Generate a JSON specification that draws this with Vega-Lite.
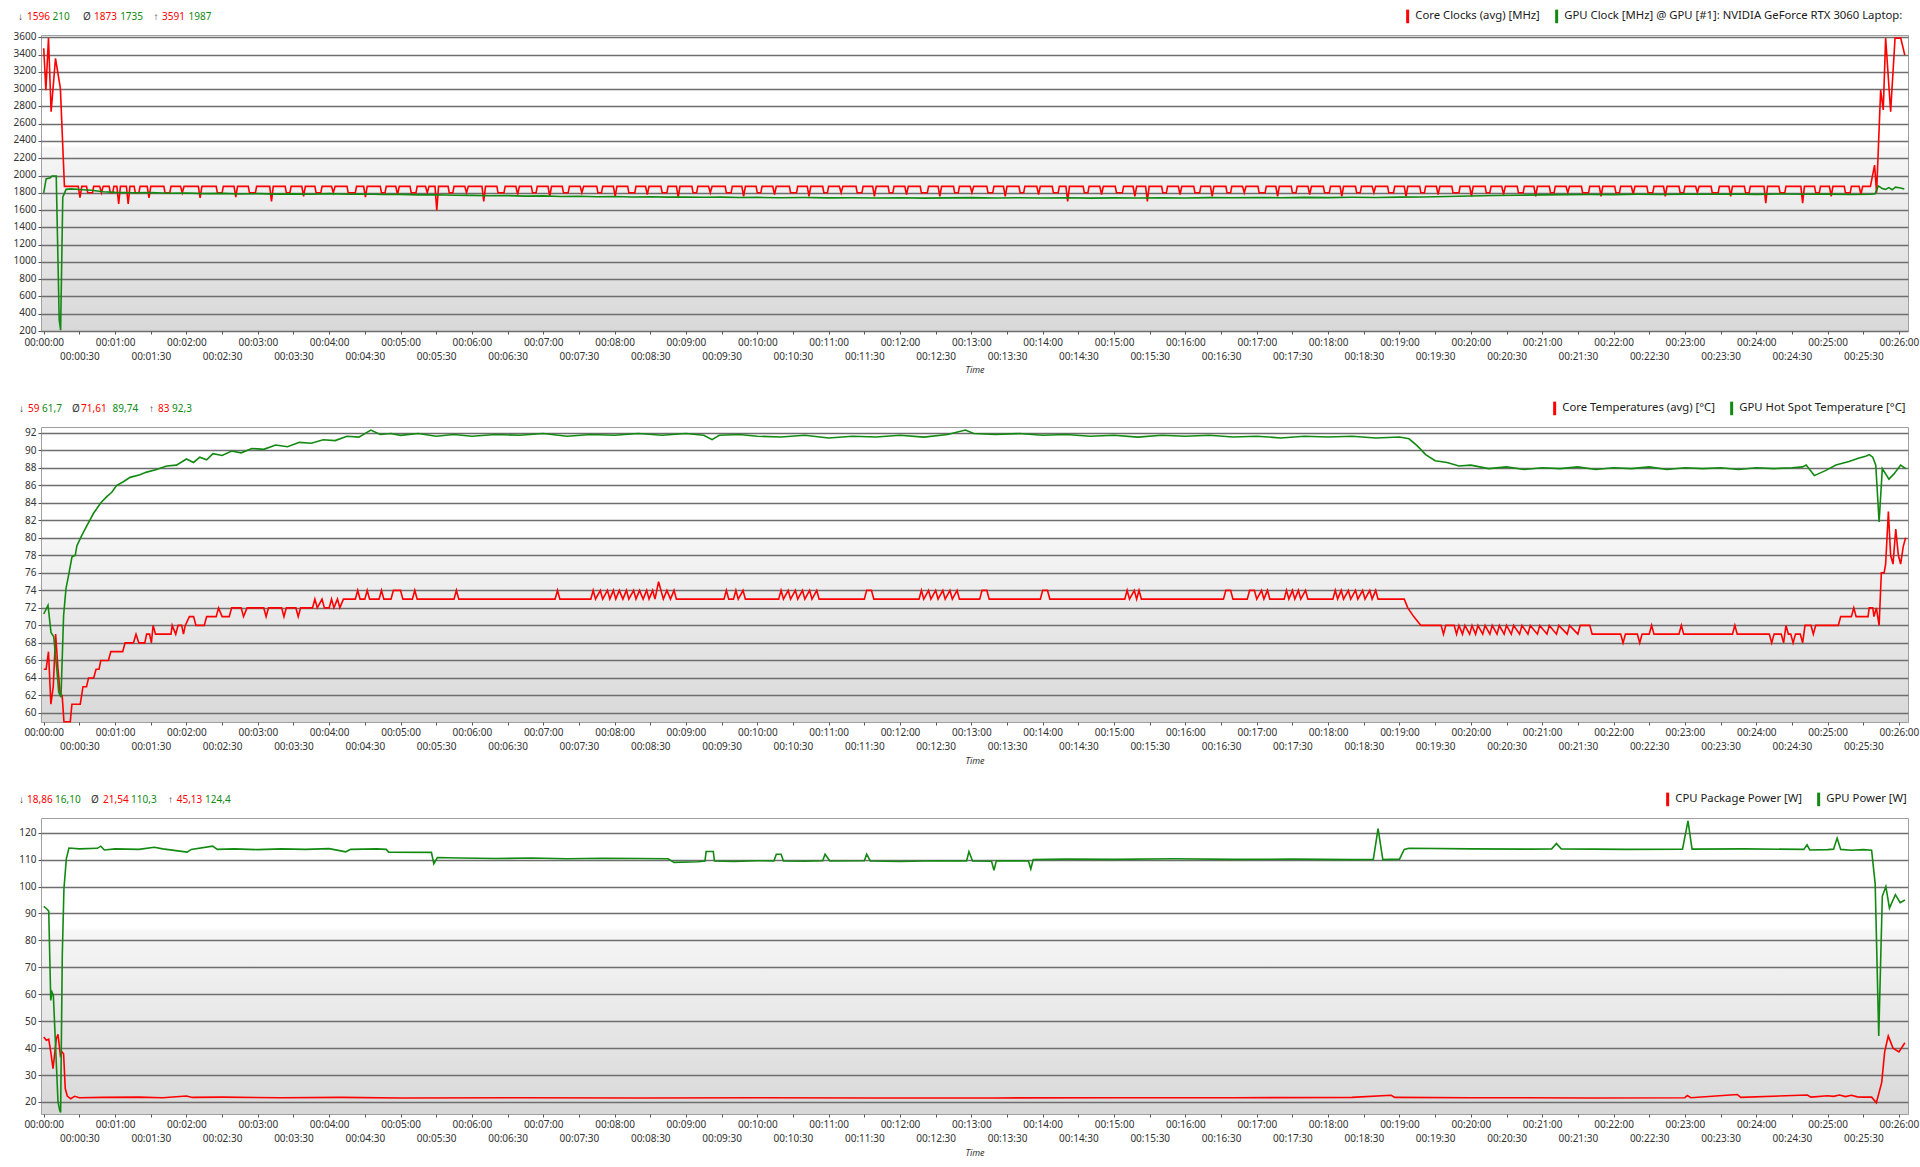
{
"$schema": "https://vega.github.io/schema/vega-lite/v6.json",
"background": "white",
"padding": {"left": 12, "top": 10, "right": 0, "bottom": 0},
"columns": 1,
"spacing": 27,
"config": {
 "font": "Noto Sans",
 "axis": {"labelFont": "Noto Sans", "labelFontSize": 10, "labelColor": "#333333", "tickColor": "#555555", "domain": false, "titleFont": "Noto Sans", "titleColor": "#333333"},
 "legend": {"labelFont": "Noto Sans", "labelFontSize": 11.3, "labelColor": "#1a1a1a", "labelLimit": 0},
 "text": {"font": "Noto Sans", "fontSize": 10}
},
"resolve": {"scale": {"color": "independent", "x": "independent", "y": "independent"}, "legend": {"color": "independent"}},
"datasets": {
 "h1": [{"a1": "1596", "b1": "210", "a2": "1873", "b2": "1735", "a3": "3591", "b3": "1987"}],
 "h2": [{"a1": "59", "b1": "61,7", "a2": "71,61", "b2": "89,74", "a3": "83", "b3": "92,3"}],
 "h3": [{"a1": "18,86", "b1": "16,10", "a2": "21,54", "b2": "110,3", "a3": "45,13", "b3": "124,4"}],
 "c1a": [{"t":0,"v":3473},{"t":1.8,"v":2989},{"t":4,"v":3591},{"t":6.2,"v":2738},{"t":9.9,"v":3357},{"t":14,"v":3009},{"t":17.4,"v":1875},
  {"t":29,"v":1875},{"t":30.5,"v":1745},{"t":32,"v":1875},{"t":36,"v":1875},{"t":37,"v":1800},{"t":41,"v":1800},{"t":42,"v":1875},{"t":47,"v":1875},{"t":48.5,"v":1800},{"t":50,"v":1875},{"t":55,"v":1875},{"t":56,"v":1800},{"t":58,"v":1800},{"t":59,"v":1875},{"t":61.5,"v":1875},{"t":63,"v":1670},{"t":64.5,"v":1875},{"t":69.5,"v":1875},{"t":71,"v":1670},{"t":72.5,"v":1875},{"t":76,"v":1875},{"t":77,"v":1800},{"t":80,"v":1800},{"t":81,"v":1875},{"t":87,"v":1875},{"t":88.5,"v":1740},{"t":90,"v":1875},{"t":101,"v":1875},{"t":102,"v":1800},{"t":106,"v":1800},{"t":107,"v":1875},{"t":115,"v":1875},{"t":116.5,"v":1800},{"t":118,"v":1875},{"t":130,"v":1875},{"t":131.5,"v":1740},{"t":133,"v":1875},{"t":145,"v":1875},{"t":146,"v":1800},{"t":150,"v":1800},{"t":151,"v":1875},{"t":160,"v":1875},{"t":161.5,"v":1750},{"t":163,"v":1875},{"t":172,"v":1875},{"t":173,"v":1800},{"t":178,"v":1800},{"t":179,"v":1875},{"t":190,"v":1875},{"t":191.5,"v":1700},{"t":193,"v":1875},{"t":203,"v":1875},{"t":204,"v":1800},{"t":207,"v":1800},{"t":208,"v":1875},{"t":217,"v":1875},{"t":218.5,"v":1760},{"t":220,"v":1875},{"t":228,"v":1875},{"t":229,"v":1800},{"t":233,"v":1800},{"t":234,"v":1875},{"t":242,"v":1875},{"t":243.5,"v":1800},{"t":245,"v":1875},{"t":255,"v":1875},{"t":256,"v":1800},{"t":262,"v":1800},{"t":263,"v":1875},{"t":269,"v":1875},{"t":270.5,"v":1750},{"t":272,"v":1875},{"t":283,"v":1875},{"t":284,"v":1800},{"t":287,"v":1800},{"t":288,"v":1875},{"t":296,"v":1875},{"t":297.5,"v":1780},{"t":299,"v":1875},{"t":308,"v":1875},{"t":309,"v":1800},{"t":313,"v":1800},{"t":314,"v":1875},{"t":321,"v":1875},{"t":322.5,"v":1800},{"t":324,"v":1875},{"t":329,"v":1875},{"t":330.5,"v":1596},{"t":332,"v":1875},{"t":340,"v":1875},{"t":341,"v":1800},{"t":344,"v":1800},{"t":345,"v":1875},{"t":354,"v":1875},{"t":355.5,"v":1800},{"t":357,"v":1875},{"t":368.5,"v":1875},{"t":370,"v":1700},{"t":371.5,"v":1875},{"t":381,"v":1875},{"t":382,"v":1800},{"t":387,"v":1800},{"t":388,"v":1875},{"t":397,"v":1875},{"t":398.5,"v":1780},{"t":400,"v":1875},{"t":410,"v":1875},{"t":411,"v":1800},{"t":414,"v":1800},{"t":415,"v":1875},{"t":424,"v":1875},{"t":425.5,"v":1760},{"t":427,"v":1875},{"t":436,"v":1875},{"t":437,"v":1800},{"t":441,"v":1800},{"t":442,"v":1875},{"t":451,"v":1875},{"t":452.5,"v":1800},{"t":454,"v":1875},{"t":465,"v":1875},{"t":466,"v":1800},{"t":469,"v":1800},{"t":470,"v":1875},{"t":479,"v":1875},{"t":480.5,"v":1760},{"t":482,"v":1875},{"t":491,"v":1875},{"t":492,"v":1800},{"t":497,"v":1800},{"t":498,"v":1875},{"t":506,"v":1875},{"t":507.5,"v":1780},{"t":509,"v":1875},{"t":519,"v":1875},{"t":520,"v":1800},{"t":524,"v":1800},{"t":525,"v":1875},{"t":532,"v":1875},{"t":533.5,"v":1750},{"t":535,"v":1875},{"t":545,"v":1875},{"t":546,"v":1800},{"t":549,"v":1800},{"t":550,"v":1875},{"t":559,"v":1875},{"t":560.5,"v":1800},{"t":562,"v":1875},{"t":573,"v":1875},{"t":574,"v":1800},{"t":578,"v":1800},{"t":579,"v":1875},{"t":587,"v":1875},{"t":588.5,"v":1760},{"t":590,"v":1875},{"t":599,"v":1875},{"t":600,"v":1800},{"t":603,"v":1800},{"t":604,"v":1875},{"t":613,"v":1875},{"t":614.5,"v":1780},{"t":616,"v":1875},{"t":627,"v":1875},{"t":628,"v":1800},{"t":633,"v":1800},{"t":634,"v":1875},{"t":642,"v":1875},{"t":643.5,"v":1760},{"t":645,"v":1875},{"t":655,"v":1875},{"t":656,"v":1800},{"t":659,"v":1800},{"t":660,"v":1875},{"t":669,"v":1875},{"t":670.5,"v":1800},{"t":672,"v":1875},{"t":683,"v":1875},{"t":684,"v":1800},{"t":688,"v":1800},{"t":689,"v":1875},{"t":697,"v":1875},{"t":698.5,"v":1760},{"t":700,"v":1875},{"t":710,"v":1875},{"t":711,"v":1800},{"t":714,"v":1800},{"t":715,"v":1875},{"t":724,"v":1875},{"t":725.5,"v":1780},{"t":727,"v":1875},{"t":737,"v":1875},{"t":738,"v":1800},{"t":743,"v":1800},{"t":744,"v":1875},{"t":752,"v":1875},{"t":753.5,"v":1760},{"t":755,"v":1875},{"t":765,"v":1875},{"t":766,"v":1800},{"t":769,"v":1800},{"t":770,"v":1875},{"t":779,"v":1875},{"t":780.5,"v":1800},{"t":782,"v":1875},{"t":793,"v":1875},{"t":794,"v":1800},{"t":798,"v":1800},{"t":799,"v":1875},{"t":807,"v":1875},{"t":808.5,"v":1760},{"t":810,"v":1875},{"t":820,"v":1875},{"t":821,"v":1800},{"t":824,"v":1800},{"t":825,"v":1875},{"t":835,"v":1875},{"t":836.5,"v":1780},{"t":838,"v":1875},{"t":848,"v":1875},{"t":849,"v":1800},{"t":853,"v":1800},{"t":854,"v":1875},{"t":859.5,"v":1875},{"t":861,"v":1700},{"t":862.5,"v":1875},{"t":874,"v":1875},{"t":875,"v":1800},{"t":878,"v":1800},{"t":879,"v":1875},{"t":888,"v":1875},{"t":889.5,"v":1780},{"t":891,"v":1875},{"t":901,"v":1875},{"t":902,"v":1800},{"t":907,"v":1800},{"t":908,"v":1875},{"t":916,"v":1875},{"t":917.5,"v":1760},{"t":919,"v":1875},{"t":926.5,"v":1875},{"t":928,"v":1700},{"t":929.5,"v":1875},{"t":940,"v":1875},{"t":941,"v":1800},{"t":944,"v":1800},{"t":945,"v":1875},{"t":954,"v":1875},{"t":955.5,"v":1780},{"t":957,"v":1875},{"t":967,"v":1875},{"t":968,"v":1800},{"t":972,"v":1800},{"t":973,"v":1875},{"t":981,"v":1875},{"t":982.5,"v":1760},{"t":984,"v":1875},{"t":994,"v":1875},{"t":995,"v":1800},{"t":998,"v":1800},{"t":999,"v":1875},{"t":1008,"v":1875},{"t":1009.5,"v":1800},{"t":1011,"v":1875},{"t":1021,"v":1875},{"t":1022,"v":1800},{"t":1027,"v":1800},{"t":1028,"v":1875},{"t":1036,"v":1875},{"t":1037.5,"v":1760},{"t":1039,"v":1875},{"t":1049,"v":1875},{"t":1050,"v":1800},{"t":1053,"v":1800},{"t":1054,"v":1875},{"t":1063,"v":1875},{"t":1064.5,"v":1780},{"t":1066,"v":1875},{"t":1076,"v":1875},{"t":1077,"v":1800},{"t":1081,"v":1800},{"t":1082,"v":1875},{"t":1090,"v":1875},{"t":1091.5,"v":1760},{"t":1093,"v":1875},{"t":1103,"v":1875},{"t":1104,"v":1800},{"t":1107,"v":1800},{"t":1108,"v":1875},{"t":1117,"v":1875},{"t":1118.5,"v":1800},{"t":1120,"v":1875},{"t":1130,"v":1875},{"t":1131,"v":1800},{"t":1135,"v":1800},{"t":1136,"v":1875},{"t":1144,"v":1875},{"t":1145.5,"v":1760},{"t":1147,"v":1875},{"t":1157,"v":1875},{"t":1158,"v":1800},{"t":1161,"v":1800},{"t":1162,"v":1875},{"t":1171,"v":1875},{"t":1172.5,"v":1780},{"t":1174,"v":1875},{"t":1184,"v":1875},{"t":1185,"v":1800},{"t":1190,"v":1800},{"t":1191,"v":1875},{"t":1199,"v":1875},{"t":1200.5,"v":1760},{"t":1202,"v":1875},{"t":1212,"v":1875},{"t":1213,"v":1800},{"t":1216,"v":1800},{"t":1217,"v":1875},{"t":1226,"v":1875},{"t":1227.5,"v":1780},{"t":1229,"v":1875},{"t":1239,"v":1875},{"t":1240,"v":1800},{"t":1244,"v":1800},{"t":1245,"v":1875},{"t":1253,"v":1875},{"t":1254.5,"v":1760},{"t":1256,"v":1875},{"t":1266,"v":1875},{"t":1267,"v":1800},{"t":1270,"v":1800},{"t":1271,"v":1875},{"t":1280,"v":1875},{"t":1281.5,"v":1800},{"t":1283,"v":1875},{"t":1293,"v":1875},{"t":1294,"v":1800},{"t":1299,"v":1800},{"t":1300,"v":1875},{"t":1308,"v":1875},{"t":1309.5,"v":1760},{"t":1311,"v":1875},{"t":1321,"v":1875},{"t":1322,"v":1800},{"t":1325,"v":1800},{"t":1326,"v":1875},{"t":1335,"v":1875},{"t":1336.5,"v":1780},{"t":1338,"v":1875},{"t":1348,"v":1875},{"t":1349,"v":1800},{"t":1353,"v":1800},{"t":1354,"v":1875},{"t":1362,"v":1875},{"t":1363.5,"v":1760},{"t":1365,"v":1875},{"t":1375,"v":1875},{"t":1376,"v":1800},{"t":1379,"v":1800},{"t":1380,"v":1875},{"t":1389,"v":1875},{"t":1390.5,"v":1800},{"t":1392,"v":1875},{"t":1402,"v":1875},{"t":1403,"v":1800},{"t":1408,"v":1800},{"t":1409,"v":1875},{"t":1417,"v":1875},{"t":1418.5,"v":1760},{"t":1420,"v":1875},{"t":1430,"v":1875},{"t":1431,"v":1800},{"t":1434,"v":1800},{"t":1435,"v":1875},{"t":1446.5,"v":1875},{"t":1448,"v":1680},{"t":1449.5,"v":1875},{"t":1459,"v":1875},{"t":1460,"v":1800},{"t":1464,"v":1800},{"t":1465,"v":1875},{"t":1477.5,"v":1875},{"t":1479,"v":1680},{"t":1480.5,"v":1875},{"t":1489,"v":1875},{"t":1490,"v":1800},{"t":1493,"v":1800},{"t":1494,"v":1875},{"t":1501.5,"v":1875},{"t":1503,"v":1760},{"t":1504.5,"v":1875},{"t":1514,"v":1875},{"t":1515,"v":1800},{"t":1519,"v":1800},{"t":1520,"v":1875},{"t":1526.5,"v":1875},{"t":1528,"v":1780},{"t":1529.5,"v":1875},
  {"t":1536,"v":1875},{"t":1539.5,"v":2120},{"t":1541.2,"v":1800},{"t":1544.6,"v":2989},{"t":1546.8,"v":2760},{"t":1548.8,"v":3591},{"t":1553,"v":2740},{"t":1556.7,"v":3591},{"t":1561.5,"v":3591},{"t":1564.9,"v":3395}],
 "c1b": [{"t":0,"v":1800},{"t":2,"v":1960},{"t":5.5,"v":1975},{"t":7,"v":1995},{"t":10.5,"v":1995},{"t":12,"v":1000},{"t":13,"v":330},{"t":14.2,"v":210},{"t":16,"v":1750},{"t":18.8,"v":1840},{"t":23,"v":1845},{"t":30,"v":1838},{"t":40,"v":1830},{"t":50,"v":1812},{"t":60,"v":1805},{"t":75,"v":1800},{"t":90,"v":1803},{"t":105,"v":1795},{"t":120,"v":1798},{"t":135,"v":1790},{"t":150,"v":1793},{"t":165,"v":1786},{"t":180,"v":1790},{"t":195,"v":1785},{"t":210,"v":1788},{"t":225,"v":1783},{"t":240,"v":1790},{"t":255,"v":1784},{"t":270,"v":1786},{"t":285,"v":1780},{"t":300,"v":1782},{"t":315,"v":1776},{"t":330,"v":1778},{"t":345,"v":1772},{"t":360,"v":1770},{"t":375,"v":1766},{"t":390,"v":1768},{"t":405,"v":1762},{"t":420,"v":1764},{"t":435,"v":1758},{"t":450,"v":1760},{"t":465,"v":1755},{"t":480,"v":1757},{"t":495,"v":1752},{"t":510,"v":1754},{"t":525,"v":1750},{"t":540,"v":1752},{"t":555,"v":1748},{"t":570,"v":1750},{"t":585,"v":1745},{"t":600,"v":1747},{"t":620,"v":1743},{"t":640,"v":1745},{"t":660,"v":1741},{"t":680,"v":1743},{"t":700,"v":1739},{"t":720,"v":1742},{"t":740,"v":1738},{"t":760,"v":1741},{"t":780,"v":1744},{"t":800,"v":1740},{"t":820,"v":1743},{"t":840,"v":1739},{"t":860,"v":1742},{"t":880,"v":1738},{"t":900,"v":1741},{"t":920,"v":1739},{"t":940,"v":1743},{"t":960,"v":1740},{"t":980,"v":1744},{"t":1000,"v":1742},{"t":1020,"v":1746},{"t":1040,"v":1743},{"t":1060,"v":1747},{"t":1080,"v":1744},{"t":1100,"v":1748},{"t":1120,"v":1746},{"t":1140,"v":1750},{"t":1160,"v":1752},{"t":1180,"v":1758},{"t":1200,"v":1763},{"t":1220,"v":1768},{"t":1240,"v":1772},{"t":1260,"v":1776},{"t":1280,"v":1779},{"t":1300,"v":1781},{"t":1320,"v":1779},{"t":1340,"v":1783},{"t":1360,"v":1781},{"t":1380,"v":1785},{"t":1400,"v":1783},{"t":1420,"v":1786},{"t":1440,"v":1782},{"t":1460,"v":1786},{"t":1480,"v":1783},{"t":1500,"v":1785},{"t":1520,"v":1781},{"t":1537,"v":1784},{"t":1540,"v":1790},{"t":1542.6,"v":1880},{"t":1545.9,"v":1850},{"t":1548.7,"v":1840},{"t":1551.5,"v":1860},{"t":1554.3,"v":1835},{"t":1557.1,"v":1865},{"t":1561.3,"v":1855},{"t":1564.5,"v":1845}],
 "c2a": [{"t":0,"v":65},{"t":2,"v":65},{"t":4,"v":67},{"t":6,"v":61},{"t":8,"v":63},{"t":10,"v":69},{"t":12,"v":65},{"t":14,"v":62},{"t":15.5,"v":62},{"t":17,"v":59},{"t":22.3,"v":59},{"t":23.7,"v":61},{"t":30.7,"v":61},{"t":33,"v":63},{"t":36,"v":63},{"t":37.7,"v":64},{"t":42,"v":64},{"t":44,"v":65},{"t":46.5,"v":65},{"t":48,"v":66},{"t":54.4,"v":66},{"t":56.4,"v":67},{"t":66.4,"v":67},{"t":68.4,"v":68},{"t":75.4,"v":68},{"t":77.6,"v":69},{"t":80,"v":68},{"t":85,"v":68},{"t":86.5,"v":69},{"t":89,"v":69},{"t":90.5,"v":68},{"t":92,"v":70},{"t":94,"v":69},{"t":107,"v":69},{"t":108,"v":70},{"t":111,"v":69},{"t":113,"v":70},{"t":116,"v":70},{"t":117.5,"v":69},{"t":119,"v":70},{"t":122.5,"v":71},{"t":126,"v":71},{"t":128,"v":70},{"t":135,"v":70},{"t":137,"v":71},{"t":145,"v":71},{"t":147,"v":72},{"t":150,"v":71},{"t":156,"v":71},{"t":158,"v":72},{"t":166,"v":72},{"t":168,"v":71},{"t":171,"v":72},{"t":185,"v":72},{"t":187,"v":71},{"t":189,"v":72},{"t":200,"v":72},{"t":202,"v":71},{"t":204,"v":72},{"t":212,"v":72},{"t":214,"v":71},{"t":216,"v":72},{"t":226,"v":72},{"t":228,"v":73},{"t":230,"v":72},{"t":234,"v":73},{"t":236,"v":72},{"t":240,"v":72},{"t":242,"v":73},{"t":244,"v":72},{"t":247,"v":73},{"t":249,"v":72},{"t":252,"v":73},{"t":262,"v":73},{"t":264,"v":74},{"t":266,"v":73},{"t":270,"v":73},{"t":272,"v":74},{"t":274,"v":73},{"t":282,"v":73},{"t":284,"v":74},{"t":286,"v":73},{"t":292,"v":73},{"t":294,"v":74},{"t":300,"v":74},{"t":302,"v":73},{"t":310,"v":73},{"t":312,"v":74},{"t":314,"v":73},{"t":345,"v":73},{"t":347,"v":74},{"t":349,"v":73},{"t":430,"v":73},{"t":432,"v":74},{"t":434,"v":73},{"t":460,"v":73},{"t":462,"v":74},{"t":464,"v":73},{"t":468,"v":74},{"t":470,"v":73},{"t":474,"v":74},{"t":476,"v":73},{"t":479,"v":74},{"t":481,"v":73},{"t":484,"v":74},{"t":487,"v":73},{"t":490,"v":74},{"t":492,"v":73},{"t":496,"v":74},{"t":498,"v":73},{"t":501,"v":74},{"t":504,"v":73},{"t":507,"v":74},{"t":509,"v":73},{"t":512,"v":74},{"t":514,"v":73},{"t":517,"v":75},{"t":519,"v":74},{"t":521,"v":73},{"t":524,"v":74},{"t":527,"v":73},{"t":530,"v":74},{"t":532,"v":73},{"t":572,"v":73},{"t":574,"v":74},{"t":576,"v":73},{"t":580,"v":73},{"t":582,"v":74},{"t":584,"v":73},{"t":588,"v":74},{"t":590,"v":73},{"t":618,"v":73},{"t":620,"v":74},{"t":622,"v":73},{"t":626,"v":74},{"t":628,"v":73},{"t":632,"v":74},{"t":634,"v":73},{"t":638,"v":74},{"t":640,"v":73},{"t":644,"v":74},{"t":646,"v":73},{"t":650,"v":74},{"t":652,"v":73},{"t":690,"v":73},{"t":692,"v":74},{"t":696,"v":74},{"t":698,"v":73},{"t":736,"v":73},{"t":738,"v":74},{"t":740,"v":73},{"t":744,"v":74},{"t":746,"v":73},{"t":750,"v":74},{"t":752,"v":73},{"t":756,"v":74},{"t":758,"v":73},{"t":762,"v":74},{"t":764,"v":73},{"t":768,"v":74},{"t":770,"v":73},{"t":787,"v":73},{"t":789,"v":74},{"t":793,"v":74},{"t":795,"v":73},{"t":838,"v":73},{"t":840,"v":74},{"t":844,"v":74},{"t":846,"v":73},{"t":909,"v":73},{"t":911,"v":74},{"t":913,"v":73},{"t":917,"v":74},{"t":919,"v":73},{"t":921,"v":74},{"t":923,"v":73},{"t":992,"v":73},{"t":994,"v":74},{"t":998,"v":74},{"t":1000,"v":73},{"t":1012,"v":73},{"t":1014,"v":74},{"t":1018,"v":74},{"t":1020,"v":73},{"t":1024,"v":74},{"t":1026,"v":73},{"t":1029,"v":74},{"t":1031,"v":73},{"t":1043,"v":73},{"t":1045,"v":74},{"t":1047,"v":73},{"t":1050,"v":74},{"t":1052,"v":73},{"t":1055,"v":74},{"t":1057,"v":73},{"t":1061,"v":74},{"t":1063,"v":73},{"t":1084,"v":73},{"t":1086,"v":74},{"t":1088,"v":73},{"t":1091,"v":74},{"t":1093,"v":73},{"t":1097,"v":74},{"t":1099,"v":73},{"t":1103,"v":74},{"t":1105,"v":73},{"t":1109,"v":74},{"t":1111,"v":73},{"t":1115,"v":74},{"t":1117,"v":73},{"t":1120,"v":74},{"t":1122,"v":73},{"t":1144,"v":73},{"t":1147,"v":72},{"t":1152,"v":71},{"t":1158,"v":70},{"t":1175,"v":70},{"t":1177,"v":69},{"t":1179,"v":70},{"t":1186,"v":70},{"t":1188,"v":69},{"t":1190,"v":70},{"t":1193,"v":69},{"t":1195,"v":70},{"t":1199,"v":69},{"t":1201,"v":70},{"t":1204,"v":69},{"t":1206,"v":70},{"t":1210,"v":69},{"t":1212,"v":70},{"t":1216,"v":69},{"t":1218,"v":70},{"t":1222,"v":69},{"t":1224,"v":70},{"t":1228,"v":69},{"t":1230,"v":70},{"t":1234,"v":69},{"t":1236,"v":70},{"t":1241,"v":69},{"t":1243,"v":70},{"t":1248,"v":69},{"t":1250,"v":70},{"t":1256,"v":69},{"t":1258,"v":70},{"t":1264,"v":69},{"t":1266,"v":70},{"t":1272,"v":69},{"t":1274,"v":70},{"t":1281,"v":69},{"t":1283,"v":70},{"t":1290,"v":69},{"t":1292,"v":70},{"t":1300,"v":70},{"t":1302,"v":69},{"t":1326,"v":69},{"t":1328,"v":68},{"t":1330,"v":69},{"t":1340,"v":69},{"t":1342,"v":68},{"t":1344,"v":69},{"t":1350,"v":69},{"t":1352,"v":70},{"t":1354,"v":69},{"t":1375,"v":69},{"t":1377,"v":70},{"t":1379,"v":69},{"t":1420,"v":69},{"t":1422,"v":70},{"t":1424,"v":69},{"t":1451,"v":69},{"t":1453,"v":68},{"t":1455,"v":69},{"t":1461,"v":69},{"t":1463,"v":68},{"t":1465,"v":70},{"t":1467,"v":69},{"t":1469,"v":69},{"t":1471,"v":68},{"t":1473,"v":69},{"t":1477,"v":69},{"t":1479,"v":68},{"t":1481,"v":70},{"t":1486,"v":70},{"t":1488,"v":69},{"t":1490,"v":70},{"t":1509,"v":70},{"t":1511,"v":71},{"t":1520,"v":71},{"t":1522,"v":72},{"t":1524,"v":71},{"t":1534,"v":71},{"t":1535,"v":72},{"t":1538,"v":72},{"t":1539,"v":71},{"t":1541,"v":72},{"t":1543.3,"v":70},{"t":1545.2,"v":76},{"t":1547.5,"v":76},{"t":1548.8,"v":77},{"t":1551.1,"v":83},{"t":1553,"v":78},{"t":1555,"v":77},{"t":1557.3,"v":81},{"t":1559.5,"v":78},{"t":1561.4,"v":77},{"t":1563.6,"v":79},{"t":1565.6,"v":80}],
 "c2b": [{"t":0,"v":71.3},{"t":3.6,"v":72.3},{"t":6.1,"v":69.2},{"t":8.4,"v":68.7},{"t":11.2,"v":64.7},{"t":12.6,"v":62.4},{"t":14.5,"v":61.8},{"t":16.7,"v":71.1},{"t":18.7,"v":74.2},{"t":20.9,"v":75.7},{"t":23.7,"v":77.8},{"t":26.5,"v":78},{"t":27.9,"v":79.1},{"t":32.1,"v":80.3},{"t":36.3,"v":81.4},{"t":41.9,"v":82.8},{"t":48,"v":84},{"t":53,"v":84.7},{"t":57.2,"v":85.2},{"t":61.4,"v":86},{"t":67,"v":86.4},{"t":72.6,"v":86.9},{"t":80.9,"v":87.2},{"t":86.5,"v":87.5},{"t":94.9,"v":87.8},{"t":103.3,"v":88.2},{"t":111.6,"v":88.3},{"t":120,"v":89},{"t":126,"v":88.6},{"t":131.2,"v":89.2},{"t":137,"v":88.9},{"t":142.3,"v":89.6},{"t":150,"v":89.4},{"t":158,"v":89.9},{"t":166,"v":89.7},{"t":175,"v":90.2},{"t":185,"v":90.1},{"t":195,"v":90.6},{"t":205,"v":90.4},{"t":215,"v":90.9},{"t":225,"v":90.8},{"t":235,"v":91.2},{"t":245,"v":91.1},{"t":255,"v":91.6},{"t":265,"v":91.5},{"t":275,"v":92.3},{"t":283,"v":91.8},{"t":292,"v":91.9},{"t":300,"v":91.7},{"t":315,"v":91.9},{"t":330,"v":91.6},{"t":345,"v":91.8},{"t":360,"v":91.6},{"t":380,"v":91.8},{"t":400,"v":91.7},{"t":420,"v":91.9},{"t":440,"v":91.6},{"t":460,"v":91.8},{"t":480,"v":91.7},{"t":500,"v":91.9},{"t":520,"v":91.7},{"t":540,"v":91.9},{"t":555,"v":91.7},{"t":562,"v":91.2},{"t":568,"v":91.7},{"t":585,"v":91.8},{"t":600,"v":91.6},{"t":620,"v":91.5},{"t":640,"v":91.7},{"t":660,"v":91.4},{"t":680,"v":91.6},{"t":700,"v":91.5},{"t":720,"v":91.7},{"t":740,"v":91.5},{"t":760,"v":91.8},{"t":775,"v":92.3},{"t":782,"v":91.9},{"t":800,"v":91.8},{"t":820,"v":91.9},{"t":840,"v":91.7},{"t":860,"v":91.8},{"t":880,"v":91.6},{"t":900,"v":91.7},{"t":920,"v":91.5},{"t":940,"v":91.7},{"t":960,"v":91.6},{"t":980,"v":91.7},{"t":1000,"v":91.5},{"t":1020,"v":91.6},{"t":1040,"v":91.4},{"t":1060,"v":91.6},{"t":1080,"v":91.5},{"t":1100,"v":91.6},{"t":1120,"v":91.4},{"t":1140,"v":91.5},{"t":1148,"v":91.3},{"t":1155,"v":90.5},{"t":1162,"v":89.5},{"t":1170,"v":88.8},{"t":1180,"v":88.6},{"t":1190,"v":88.2},{"t":1200,"v":88.3},{"t":1215,"v":87.9},{"t":1230,"v":88.1},{"t":1245,"v":87.8},{"t":1260,"v":88},{"t":1275,"v":87.9},{"t":1290,"v":88.1},{"t":1305,"v":87.8},{"t":1320,"v":88},{"t":1335,"v":87.9},{"t":1350,"v":88.1},{"t":1365,"v":87.8},{"t":1380,"v":88},{"t":1395,"v":87.9},{"t":1410,"v":88},{"t":1425,"v":87.8},{"t":1440,"v":88},{"t":1455,"v":87.9},{"t":1470,"v":88},{"t":1479,"v":88.1},{"t":1482,"v":88.3},{"t":1488.8,"v":87.1},{"t":1498.6,"v":87.7},{"t":1507,"v":88.3},{"t":1518,"v":88.7},{"t":1526.5,"v":89.1},{"t":1532,"v":89.3},{"t":1535,"v":89.5},{"t":1538,"v":89.2},{"t":1540.5,"v":88.3},{"t":1543.3,"v":81.8},{"t":1546,"v":87.9},{"t":1551.6,"v":86.7},{"t":1555.8,"v":87.3},{"t":1561.4,"v":88.3},{"t":1565.6,"v":87.9}],
 "c3a": [{"t":0,"v":44.1},{"t":2.2,"v":42.9},{"t":4.2,"v":43.3},{"t":5.9,"v":38.6},{"t":7.8,"v":32.4},{"t":10.6,"v":43.5},{"t":12,"v":45.1},{"t":14,"v":37.3},{"t":15.4,"v":38.6},{"t":16.7,"v":37.9},{"t":18.1,"v":25},{"t":19.8,"v":22.2},{"t":22.6,"v":21.2},{"t":26,"v":22.1},{"t":30,"v":21.6},{"t":50,"v":21.7},{"t":80,"v":21.8},{"t":100,"v":21.6},{"t":120,"v":22.2},{"t":125,"v":21.7},{"t":150,"v":21.8},{"t":200,"v":21.6},{"t":250,"v":21.7},{"t":300,"v":21.5},{"t":400,"v":21.6},{"t":500,"v":21.5},{"t":600,"v":21.6},{"t":700,"v":21.5},{"t":800,"v":21.5},{"t":900,"v":21.6},{"t":1000,"v":21.6},{"t":1100,"v":21.7},{"t":1133,"v":22.5},{"t":1136,"v":21.7},{"t":1200,"v":21.6},{"t":1300,"v":21.5},{"t":1380,"v":21.6},{"t":1382,"v":22.4},{"t":1385,"v":21.6},{"t":1424,"v":22.8},{"t":1427,"v":21.7},{"t":1483,"v":22.6},{"t":1486,"v":21.8},{"t":1500,"v":22.3},{"t":1505,"v":22.1},{"t":1510,"v":22.6},{"t":1515,"v":22},{"t":1520,"v":22.5},{"t":1525,"v":21.9},{"t":1530,"v":21.8},{"t":1537,"v":21.8},{"t":1541,"v":19.7},{"t":1545.5,"v":27.3},{"t":1548,"v":38.7},{"t":1551,"v":44.5},{"t":1555,"v":40},{"t":1560,"v":38.6},{"t":1565,"v":42}],
 "c3b": [{"t":0,"v":92.6},{"t":3.1,"v":91.5},{"t":4.2,"v":90.8},{"t":5.9,"v":57.7},{"t":7,"v":60.8},{"t":8.1,"v":59.6},{"t":12,"v":20},{"t":13.4,"v":16.9},{"t":14.2,"v":16.1},{"t":15.6,"v":74.5},{"t":17,"v":99.2},{"t":19,"v":110.3},{"t":21.2,"v":114.3},{"t":30,"v":114},{"t":45,"v":114.2},{"t":48,"v":115},{"t":51,"v":113.6},{"t":60,"v":114},{"t":80,"v":113.8},{"t":93,"v":114.6},{"t":100,"v":114},{"t":120.6,"v":112.8},{"t":124,"v":113.8},{"t":142,"v":115},{"t":146,"v":113.8},{"t":160,"v":114},{"t":180,"v":113.7},{"t":200,"v":114},{"t":220,"v":113.8},{"t":240,"v":114.1},{"t":254,"v":112.9},{"t":258,"v":113.8},{"t":280,"v":114},{"t":288,"v":113.8},{"t":290,"v":112.8},{"t":326,"v":112.7},{"t":328,"v":108.5},{"t":331,"v":110.8},{"t":350,"v":110.6},{"t":380,"v":110.4},{"t":410,"v":110.6},{"t":440,"v":110.3},{"t":470,"v":110.5},{"t":500,"v":110.4},{"t":525,"v":110.3},{"t":530,"v":109},{"t":550,"v":109.2},{"t":556,"v":109.5},{"t":557,"v":113},{"t":563,"v":113},{"t":564,"v":109.5},{"t":580,"v":109.3},{"t":600,"v":109.6},{"t":614,"v":109.5},{"t":616,"v":112},{"t":620,"v":112},{"t":622,"v":109.5},{"t":640,"v":109.4},{"t":655,"v":109.6},{"t":657,"v":112},{"t":661,"v":109.5},{"t":690,"v":109.6},{"t":692,"v":112},{"t":695,"v":109.5},{"t":720,"v":109.3},{"t":750,"v":109.6},{"t":776,"v":109.5},{"t":778,"v":113},{"t":781,"v":109.5},{"t":797,"v":109.4},{"t":799,"v":106},{"t":801,"v":109.6},{"t":828,"v":109.5},{"t":830,"v":106.5},{"t":832,"v":110},{"t":860,"v":110.2},{"t":900,"v":110.1},{"t":950,"v":110.3},{"t":1000,"v":110.1},{"t":1050,"v":110.2},{"t":1100,"v":110},{"t":1118,"v":110.1},{"t":1122,"v":121.5},{"t":1126,"v":110},{"t":1140,"v":110.2},{"t":1144,"v":113.8},{"t":1148,"v":114.2},{"t":1200,"v":114},{"t":1250,"v":113.9},{"t":1268,"v":114},{"t":1272,"v":116},{"t":1276,"v":114},{"t":1330,"v":113.8},{"t":1378,"v":113.9},{"t":1382.6,"v":124.4},{"t":1386,"v":113.9},{"t":1430,"v":114},{"t":1480,"v":113.8},{"t":1482.7,"v":115.5},{"t":1485,"v":113.6},{"t":1500,"v":113.7},{"t":1505,"v":113.9},{"t":1508,"v":118},{"t":1511,"v":113.8},{"t":1520,"v":113.5},{"t":1530,"v":113.7},{"t":1537,"v":113.5},{"t":1540,"v":101},{"t":1543,"v":44.5},{"t":1546,"v":96.4},{"t":1549,"v":100},{"t":1552,"v":92},{"t":1557,"v":97},{"t":1561,"v":94},{"t":1565,"v":95}]
},
"concat": [
 {
  "width": 1867, "height": 296,
  "view": {"stroke": "#a0a0a0", "fill": {"gradient": "linear", "x1": 0, "y1": 0, "x2": 0, "y2": 1, "stops": [{"offset": 0, "color": "#ffffff"}, {"offset": 0.37, "color": "#ffffff"}, {"offset": 0.38, "color": "#f6f6f6"}, {"offset": 1, "color": "#d8d8d8"}]}},
  "layer": [
   {"data": {"name": "c1a"}, "mark": {"type": "line", "strokeWidth": 1.6},
    "encoding": {
     "x": {"field": "t", "type": "quantitative", "scale": {"domain": [-2.3, 1567.6], "nice": false, "zero": false},
       "axis": {"values": [0,30,60,90,120,150,180,210,240,270,300,330,360,390,420,450,480,510,540,570,600,630,660,690,720,750,780,810,840,870,900,930,960,990,1020,1050,1080,1110,1140,1170,1200,1230,1260,1290,1320,1350,1380,1410,1440,1470,1500,1530,1560], "tickCount": 500,
        "labelExpr": "datum.value % 60 == 0 ? utcFormat(datum.value * 1000, '%H:%M:%S') : ['', utcFormat(datum.value * 1000, '%H:%M:%S')]",
        "labelOverlap": false, "labelFlush": false, "labelBound": false, "labelLineHeight": 14, "labelPadding": 3, "tickSize": 3, "grid": false,
        "title": "Time", "titleFontStyle": "italic", "titleFontWeight": "normal", "titleFontSize": 9, "titlePadding": 4}},
     "y": {"field": "v", "type": "quantitative", "scale": {"domain": [200, 3627], "nice": false, "zero": false},
       "axis": {"values": [200,400,600,800,1000,1200,1400,1600,1800,2000,2200,2400,2600,2800,3000,3200,3400,3600], "tickCount": 500, "format": "d", "labelOverlap": false, "labelOffset": -1, "grid": true, "gridColor": "#6e6e6e", "gridWidth": 1.6, "tickSize": 3, "labelPadding": 2, "title": null}},
     "color": {"datum": "Core Clocks (avg) [MHz]", "type": "nominal",
       "scale": {"domain": ["Core Clocks (avg) [MHz]", "GPU Clock [MHz] @ GPU [#1]: NVIDIA GeForce RTX 3060 Laptop:"], "range": ["#ff0000", "#128a12"]},
       "legend": {"orient": "none", "legendX": 1361, "legendY": -24.5, "direction": "horizontal", "title": null, "symbolType": "M0,-1.7L0,1.7", "symbolSize": 64, "symbolStrokeWidth": 3, "labelOffset": 2, "columnPadding": 10}}
    }},
   {"data": {"name": "c1b"}, "mark": {"type": "line", "strokeWidth": 1.6},
    "encoding": {"x": {"field": "t", "type": "quantitative"}, "y": {"field": "v", "type": "quantitative"},
     "color": {"datum": "GPU Clock [MHz] @ GPU [#1]: NVIDIA GeForce RTX 3060 Laptop:", "type": "nominal"}}},
   {"data": {"name": "h1"}, "mark": {"type": "text", "align": "left", "baseline": "middle", "dx": -25.7, "dy": -18, "color": "#333333"}, "encoding": {"x": {"datum": 0, "type": "quantitative"}, "y": {"datum": 3627, "type": "quantitative"}, "text": {"value": "↓"}}},
   {"data": {"name": "h1"}, "mark": {"type": "text", "align": "left", "baseline": "middle", "dx": -16.7, "dy": -18}, "encoding": {"x": {"datum": 0, "type": "quantitative"}, "y": {"datum": 3627, "type": "quantitative"}, "text": {"field": "a1"}, "color": {"datum": "Core Clocks (avg) [MHz]", "type": "nominal"}}},
   {"data": {"name": "h1"}, "mark": {"type": "text", "align": "left", "baseline": "middle", "dx": 8.8, "dy": -18}, "encoding": {"x": {"datum": 0, "type": "quantitative"}, "y": {"datum": 3627, "type": "quantitative"}, "text": {"field": "b1"}, "color": {"datum": "GPU Clock [MHz] @ GPU [#1]: NVIDIA GeForce RTX 3060 Laptop:", "type": "nominal"}}},
   {"data": {"name": "h1"}, "mark": {"type": "text", "align": "left", "baseline": "middle", "dx": 39.3, "dy": -18, "color": "#333333"}, "encoding": {"x": {"datum": 0, "type": "quantitative"}, "y": {"datum": 3627, "type": "quantitative"}, "text": {"value": "Ø"}}},
   {"data": {"name": "h1"}, "mark": {"type": "text", "align": "left", "baseline": "middle", "dx": 50.3, "dy": -18}, "encoding": {"x": {"datum": 0, "type": "quantitative"}, "y": {"datum": 3627, "type": "quantitative"}, "text": {"field": "a2"}, "color": {"datum": "Core Clocks (avg) [MHz]", "type": "nominal"}}},
   {"data": {"name": "h1"}, "mark": {"type": "text", "align": "left", "baseline": "middle", "dx": 76.4, "dy": -18}, "encoding": {"x": {"datum": 0, "type": "quantitative"}, "y": {"datum": 3627, "type": "quantitative"}, "text": {"field": "b2"}, "color": {"datum": "GPU Clock [MHz] @ GPU [#1]: NVIDIA GeForce RTX 3060 Laptop:", "type": "nominal"}}},
   {"data": {"name": "h1"}, "mark": {"type": "text", "align": "left", "baseline": "middle", "dx": 109.8, "dy": -18, "color": "#333333"}, "encoding": {"x": {"datum": 0, "type": "quantitative"}, "y": {"datum": 3627, "type": "quantitative"}, "text": {"value": "↑"}}},
   {"data": {"name": "h1"}, "mark": {"type": "text", "align": "left", "baseline": "middle", "dx": 118.3, "dy": -18}, "encoding": {"x": {"datum": 0, "type": "quantitative"}, "y": {"datum": 3627, "type": "quantitative"}, "text": {"field": "a3"}, "color": {"datum": "Core Clocks (avg) [MHz]", "type": "nominal"}}},
   {"data": {"name": "h1"}, "mark": {"type": "text", "align": "left", "baseline": "middle", "dx": 144.8, "dy": -18}, "encoding": {"x": {"datum": 0, "type": "quantitative"}, "y": {"datum": 3627, "type": "quantitative"}, "text": {"field": "b3"}, "color": {"datum": "GPU Clock [MHz] @ GPU [#1]: NVIDIA GeForce RTX 3060 Laptop:", "type": "nominal"}}}
  ]
 },
 {
  "width": 1867, "height": 295,
  "view": {"stroke": "#a0a0a0", "fill": {"gradient": "linear", "x1": 0, "y1": 0, "x2": 0, "y2": 1, "stops": [{"offset": 0, "color": "#ffffff"}, {"offset": 0.37, "color": "#ffffff"}, {"offset": 0.38, "color": "#f6f6f6"}, {"offset": 1, "color": "#d8d8d8"}]}},
  "layer": [
   {"data": {"name": "c2a"}, "mark": {"type": "line", "strokeWidth": 1.6},
    "encoding": {
     "x": {"field": "t", "type": "quantitative", "scale": {"domain": [-2.3, 1567.6], "nice": false, "zero": false},
       "axis": {"values": [0,30,60,90,120,150,180,210,240,270,300,330,360,390,420,450,480,510,540,570,600,630,660,690,720,750,780,810,840,870,900,930,960,990,1020,1050,1080,1110,1140,1170,1200,1230,1260,1290,1320,1350,1380,1410,1440,1470,1500,1530,1560], "tickCount": 500,
        "labelExpr": "datum.value % 60 == 0 ? utcFormat(datum.value * 1000, '%H:%M:%S') : ['', utcFormat(datum.value * 1000, '%H:%M:%S')]",
        "labelOverlap": false, "labelFlush": false, "labelBound": false, "labelLineHeight": 14, "labelPadding": 2, "tickSize": 3, "grid": false,
        "title": "Time", "titleFontStyle": "italic", "titleFontWeight": "normal", "titleFontSize": 9, "titlePadding": 5}},
     "y": {"field": "v", "type": "quantitative", "scale": {"domain": [58.97, 92.65], "nice": false, "zero": false},
       "axis": {"values": [60,62,64,66,68,70,72,74,76,78,80,82,84,86,88,90,92], "tickCount": 500, "format": "d", "labelOverlap": false, "grid": true, "gridColor": "#6e6e6e", "gridWidth": 1.6, "tickSize": 3, "labelPadding": 2, "title": null}},
     "color": {"datum": "Core Temperatures (avg) [°C]", "type": "nominal",
       "scale": {"domain": ["Core Temperatures (avg) [°C]", "GPU Hot Spot Temperature [°C]"], "range": ["#ff0000", "#128a12"]},
       "legend": {"orient": "none", "legendX": 1508, "legendY": -24.5, "direction": "horizontal", "title": null, "symbolType": "M0,-1.7L0,1.7", "symbolSize": 64, "symbolStrokeWidth": 3, "labelOffset": 2, "columnPadding": 10}}
    }},
   {"data": {"name": "c2b"}, "mark": {"type": "line", "strokeWidth": 1.6},
    "encoding": {"x": {"field": "t", "type": "quantitative"}, "y": {"field": "v", "type": "quantitative"},
     "color": {"datum": "GPU Hot Spot Temperature [°C]", "type": "nominal"}}},
   {"data": {"name": "h2"}, "mark": {"type": "text", "align": "left", "baseline": "middle", "dx": -24.7, "dy": -18, "color": "#333333"}, "encoding": {"x": {"datum": 0, "type": "quantitative"}, "y": {"datum": 92.65, "type": "quantitative"}, "text": {"value": "↓"}}},
   {"data": {"name": "h2"}, "mark": {"type": "text", "align": "left", "baseline": "middle", "dx": -15.7, "dy": -18}, "encoding": {"x": {"datum": 0, "type": "quantitative"}, "y": {"datum": 92.65, "type": "quantitative"}, "text": {"field": "a1"}, "color": {"datum": "Core Temperatures (avg) [°C]", "type": "nominal"}}},
   {"data": {"name": "h2"}, "mark": {"type": "text", "align": "left", "baseline": "middle", "dx": -1.7, "dy": -18}, "encoding": {"x": {"datum": 0, "type": "quantitative"}, "y": {"datum": 92.65, "type": "quantitative"}, "text": {"field": "b1"}, "color": {"datum": "GPU Hot Spot Temperature [°C]", "type": "nominal"}}},
   {"data": {"name": "h2"}, "mark": {"type": "text", "align": "left", "baseline": "middle", "dx": 28.3, "dy": -18, "color": "#333333"}, "encoding": {"x": {"datum": 0, "type": "quantitative"}, "y": {"datum": 92.65, "type": "quantitative"}, "text": {"value": "Ø"}}},
   {"data": {"name": "h2"}, "mark": {"type": "text", "align": "left", "baseline": "middle", "dx": 37.3, "dy": -18}, "encoding": {"x": {"datum": 0, "type": "quantitative"}, "y": {"datum": 92.65, "type": "quantitative"}, "text": {"field": "a2"}, "color": {"datum": "Core Temperatures (avg) [°C]", "type": "nominal"}}},
   {"data": {"name": "h2"}, "mark": {"type": "text", "align": "left", "baseline": "middle", "dx": 68.8, "dy": -18}, "encoding": {"x": {"datum": 0, "type": "quantitative"}, "y": {"datum": 92.65, "type": "quantitative"}, "text": {"field": "b2"}, "color": {"datum": "GPU Hot Spot Temperature [°C]", "type": "nominal"}}},
   {"data": {"name": "h2"}, "mark": {"type": "text", "align": "left", "baseline": "middle", "dx": 105.3, "dy": -18, "color": "#333333"}, "encoding": {"x": {"datum": 0, "type": "quantitative"}, "y": {"datum": 92.65, "type": "quantitative"}, "text": {"value": "↑"}}},
   {"data": {"name": "h2"}, "mark": {"type": "text", "align": "left", "baseline": "middle", "dx": 114.3, "dy": -18}, "encoding": {"x": {"datum": 0, "type": "quantitative"}, "y": {"datum": 92.65, "type": "quantitative"}, "text": {"field": "a3"}, "color": {"datum": "Core Temperatures (avg) [°C]", "type": "nominal"}}},
   {"data": {"name": "h2"}, "mark": {"type": "text", "align": "left", "baseline": "middle", "dx": 128.3, "dy": -18}, "encoding": {"x": {"datum": 0, "type": "quantitative"}, "y": {"datum": 92.65, "type": "quantitative"}, "text": {"field": "b3"}, "color": {"datum": "GPU Hot Spot Temperature [°C]", "type": "nominal"}}}
  ]
 },
 {
  "width": 1867, "height": 296,
  "view": {"stroke": "#a0a0a0", "fill": {"gradient": "linear", "x1": 0, "y1": 0, "x2": 0, "y2": 1, "stops": [{"offset": 0, "color": "#ffffff"}, {"offset": 0.37, "color": "#ffffff"}, {"offset": 0.38, "color": "#f6f6f6"}, {"offset": 1, "color": "#d8d8d8"}]}},
  "layer": [
   {"data": {"name": "c3a"}, "mark": {"type": "line", "strokeWidth": 1.6},
    "encoding": {
     "x": {"field": "t", "type": "quantitative", "scale": {"domain": [-2.3, 1567.6], "nice": false, "zero": false},
       "axis": {"values": [0,30,60,90,120,150,180,210,240,270,300,330,360,390,420,450,480,510,540,570,600,630,660,690,720,750,780,810,840,870,900,930,960,990,1020,1050,1080,1110,1140,1170,1200,1230,1260,1290,1320,1350,1380,1410,1440,1470,1500,1530,1560], "tickCount": 500,
        "labelExpr": "datum.value % 60 == 0 ? utcFormat(datum.value * 1000, '%H:%M:%S') : ['', utcFormat(datum.value * 1000, '%H:%M:%S')]",
        "labelOverlap": false, "labelFlush": false, "labelBound": false, "labelLineHeight": 14, "labelPadding": 2, "tickSize": 3, "grid": false,
        "title": "Time", "titleFontStyle": "italic", "titleFontWeight": "normal", "titleFontSize": 9, "titlePadding": 5}},
     "y": {"field": "v", "type": "quantitative", "scale": {"domain": [15.54, 125.46], "nice": false, "zero": false},
       "axis": {"values": [20,30,40,50,60,70,80,90,100,110,120], "tickCount": 500, "format": "d", "labelOverlap": false, "grid": true, "gridColor": "#6e6e6e", "gridWidth": 1.6, "tickSize": 3, "labelPadding": 2, "title": null}},
     "color": {"datum": "CPU Package Power [W]", "type": "nominal",
       "scale": {"domain": ["CPU Package Power [W]", "GPU Power [W]"], "range": ["#ff0000", "#128a12"]},
       "legend": {"orient": "none", "legendX": 1621, "legendY": -24.5, "direction": "horizontal", "title": null, "symbolType": "M0,-1.7L0,1.7", "symbolSize": 64, "symbolStrokeWidth": 3, "labelOffset": 2, "columnPadding": 10}}
    }},
   {"data": {"name": "c3b"}, "mark": {"type": "line", "strokeWidth": 1.6},
    "encoding": {"x": {"field": "t", "type": "quantitative"}, "y": {"field": "v", "type": "quantitative"},
     "color": {"datum": "GPU Power [W]", "type": "nominal"}}},
   {"data": {"name": "h3"}, "mark": {"type": "text", "align": "left", "baseline": "middle", "dx": -24.7, "dy": -18, "color": "#333333"}, "encoding": {"x": {"datum": 0, "type": "quantitative"}, "y": {"datum": 125.46, "type": "quantitative"}, "text": {"value": "↓"}}},
   {"data": {"name": "h3"}, "mark": {"type": "text", "align": "left", "baseline": "middle", "dx": -16.7, "dy": -18}, "encoding": {"x": {"datum": 0, "type": "quantitative"}, "y": {"datum": 125.46, "type": "quantitative"}, "text": {"field": "a1"}, "color": {"datum": "CPU Package Power [W]", "type": "nominal"}}},
   {"data": {"name": "h3"}, "mark": {"type": "text", "align": "left", "baseline": "middle", "dx": 11.3, "dy": -18}, "encoding": {"x": {"datum": 0, "type": "quantitative"}, "y": {"datum": 125.46, "type": "quantitative"}, "text": {"field": "b1"}, "color": {"datum": "GPU Power [W]", "type": "nominal"}}},
   {"data": {"name": "h3"}, "mark": {"type": "text", "align": "left", "baseline": "middle", "dx": 47.3, "dy": -18, "color": "#333333"}, "encoding": {"x": {"datum": 0, "type": "quantitative"}, "y": {"datum": 125.46, "type": "quantitative"}, "text": {"value": "Ø"}}},
   {"data": {"name": "h3"}, "mark": {"type": "text", "align": "left", "baseline": "middle", "dx": 59.3, "dy": -18}, "encoding": {"x": {"datum": 0, "type": "quantitative"}, "y": {"datum": 125.46, "type": "quantitative"}, "text": {"field": "a2"}, "color": {"datum": "CPU Package Power [W]", "type": "nominal"}}},
   {"data": {"name": "h3"}, "mark": {"type": "text", "align": "left", "baseline": "middle", "dx": 87.3, "dy": -18}, "encoding": {"x": {"datum": 0, "type": "quantitative"}, "y": {"datum": 125.46, "type": "quantitative"}, "text": {"field": "b2"}, "color": {"datum": "GPU Power [W]", "type": "nominal"}}},
   {"data": {"name": "h3"}, "mark": {"type": "text", "align": "left", "baseline": "middle", "dx": 124.3, "dy": -18, "color": "#333333"}, "encoding": {"x": {"datum": 0, "type": "quantitative"}, "y": {"datum": 125.46, "type": "quantitative"}, "text": {"value": "↑"}}},
   {"data": {"name": "h3"}, "mark": {"type": "text", "align": "left", "baseline": "middle", "dx": 133, "dy": -18}, "encoding": {"x": {"datum": 0, "type": "quantitative"}, "y": {"datum": 125.46, "type": "quantitative"}, "text": {"field": "a3"}, "color": {"datum": "CPU Package Power [W]", "type": "nominal"}}},
   {"data": {"name": "h3"}, "mark": {"type": "text", "align": "left", "baseline": "middle", "dx": 161.3, "dy": -18}, "encoding": {"x": {"datum": 0, "type": "quantitative"}, "y": {"datum": 125.46, "type": "quantitative"}, "text": {"field": "b3"}, "color": {"datum": "GPU Power [W]", "type": "nominal"}}}
  ]
 }
]
}
